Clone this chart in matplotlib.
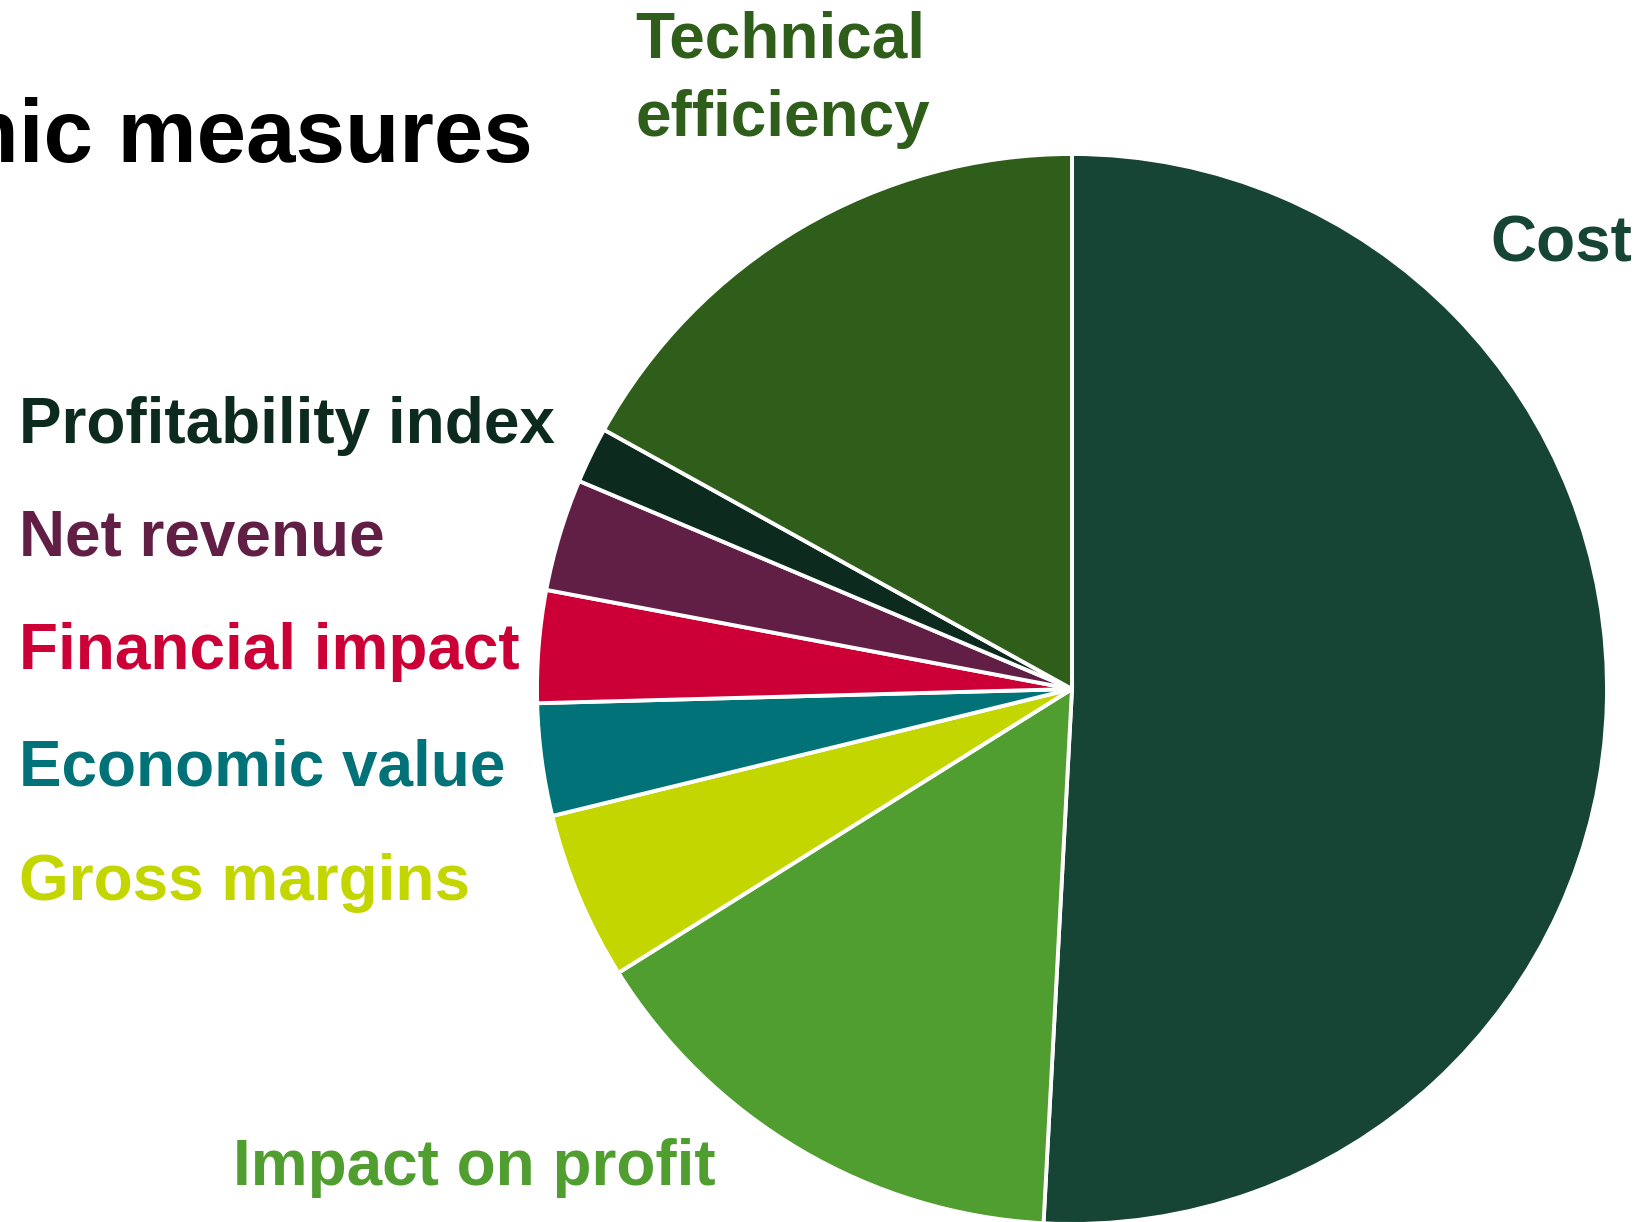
import matplotlib
matplotlib.use("Agg")
import matplotlib.pyplot as plt

# counts per economic measure (clockwise from 12 o'clock)
measures = ["Cost", "Impact on profit", "Gross margins", "Economic value",
            "Financial impact", "Net revenue", "Profitability index",
            "Technical efficiency"]
counts = [30, 9, 3, 2, 2, 2, 1, 10]
colors = ["#174535", "#509e2f", "#c3d600", "#007278",
          "#cc0036", "#621f45", "#0d2a1e", "#2f5e1b"]

W, H = 1645, 1222
fig = plt.figure(figsize=(W / 100, H / 100), dpi=100)
plt.rcParams['font.family'] = ['Liberation Sans', 'DejaVu Sans']

# pie centre at about (1072, 689) px, radius 535 px
cx, cy, r = 1072, 689, 535
ax = fig.add_axes([(cx - r) / W, (H - cy - r) / H, 2 * r / W, 2 * r / H])
ax.pie(counts, colors=colors, startangle=90, counterclock=False,
       wedgeprops=dict(edgecolor="white", linewidth=2.8))
ax.set_xlim(-1, 1)
ax.set_ylim(-1, 1)
ax.set_aspect("equal")
ax.axis("off")


def label(x, y, s, c, size=46, ha="left"):
    fig.text(x / W, 1 - y / H, s, color=c, fontsize=size, fontweight="bold",
             ha=ha, va="baseline")


label(533, 162, "Economic measures", "black", size=64, ha="right")
label(635, 58, "Technical", colors[7])
label(635, 136, "efficiency", colors[7])
label(1490, 262, "Cost", colors[0])
label(19, 443, "Profitability index", colors[6])
label(19, 556, "Net revenue", colors[5])
label(19, 669, "Financial impact", colors[4])
label(19, 785, "Economic value", colors[3])
label(19, 900, "Gross margins", colors[2])
label(233, 1185, "Impact on profit", colors[1])

fig.savefig("out.png", dpi=100)
